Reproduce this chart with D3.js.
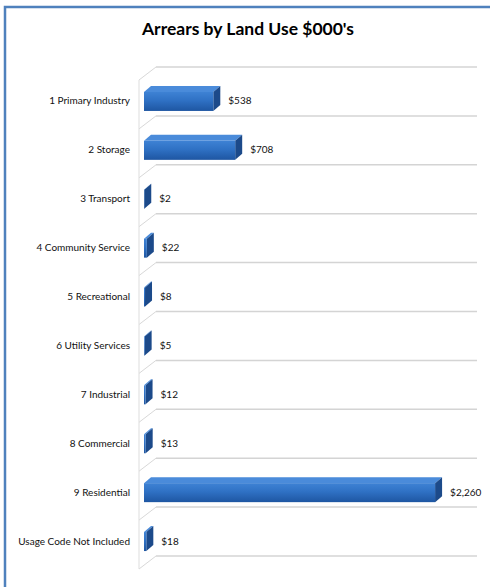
<!DOCTYPE html>
<html><head><meta charset="utf-8">
<script src="https://cdn.jsdelivr.net/npm/d3@7"></script>
<style>body{margin:0;background:#fff}svg{display:block}</style>
</head><body>
<svg id="c" width="490" height="587"></svg>
<script>
const categories = ["1 Primary Industry","2 Storage","3 Transport","4 Community Service","5 Recreational","6 Utility Services","7 Industrial","8 Commercial","9 Residential","Usage Code Not Included"];
const values = [538, 708, 2, 22, 8, 5, 12, 13, 2260, 18];
const valueLabels = ["$538","$708","$2","$22","$8","$5","$12","$13","$2,260","$18"];
const title = "Arrears by Land Use $000's";

const svg = d3.select("#c");
const font = "Lato, 'Open Sans', sans-serif";
const defs = svg.append("defs");
const gf = defs.append("linearGradient").attr("id","gf").attr("x1",0).attr("y1",0).attr("x2",0).attr("y2",1);
gf.append("stop").attr("offset","0%").attr("stop-color","#3E82D4");
gf.append("stop").attr("offset","45%").attr("stop-color","#2F71C4");
gf.append("stop").attr("offset","100%").attr("stop-color","#1E56A2");

// frame
svg.append("rect").attr("x",5).attr("y",7).attr("width",500).attr("height",600)
  .attr("fill","#fff").attr("stroke","#4F81BD").attr("stroke-width",2.5);

svg.append("text").attr("x",248).attr("y",31).attr("text-anchor","middle")
  .attr("dominant-baseline","middle").attr("font-family",font).attr("font-weight","bold")
  .attr("font-size",17.5).attr("fill","#000").text(title);

const x = d3.scaleLinear().domain([0, 2500]).range([144, 466]);
const y = d3.scaleBand().domain(categories).range([67, 556]).padding(0);
const dx = 7, dy = -6, bh = 19;
const bw = y.bandwidth();

// gridlines (back wall) and left wall
const bounds = categories.map(c => y(c)).concat([y.range()[1]]);
const wallX0 = 139, wallX1 = 156, wallDy = 13;
const g = svg.append("g");
g.selectAll("line.grid").data(bounds).join("line").attr("class","grid")
  .attr("x1",wallX1).attr("x2",477).attr("y1",d=>d).attr("y2",d=>d)
  .attr("stroke","#D4D4D4").attr("stroke-width",1.5);
g.selectAll("line.diag").data(bounds).join("line").attr("class","diag")
  .attr("x1",wallX0).attr("y1",d=>d+wallDy).attr("x2",wallX1).attr("y2",d=>d)
  .attr("stroke","#D8D8D8").attr("stroke-width",1);
g.append("line").attr("x1",wallX0).attr("x2",wallX0).attr("y1",bounds[0]+wallDy).attr("y2",bounds[bounds.length-1]+wallDy)
  .attr("stroke","#DDDDDD").attr("stroke-width",1);

// bars
const data = categories.map((c,i)=>({c, v: values[i], l: valueLabels[i]}));
const bars = svg.append("g").selectAll("g").data(data).join("g");
const fy = d => y(d.c) + bw/2 + 10 - bh/2;
bars.append("path").attr("fill","#4A8BDA").attr("d", d => {
  const x0 = x(0), x1 = x(d.v), t = fy(d);
  return `M${x0},${t}L${x0+dx},${t+dy}L${x1+dx},${t+dy}L${x1},${t}Z`;
});
bars.append("path").attr("fill","#1C4A8A").attr("d", d => {
  const x1 = x(d.v), t = fy(d);
  return `M${x1},${t}L${x1+dx},${t+dy}L${x1+dx},${t+dy+bh}L${x1},${t+bh}Z`;
});
bars.append("rect").attr("x", x(0)).attr("y", d => fy(d)).attr("width", d => x(d.v)-x(0))
  .attr("height", bh).attr("fill","url(#gf)");

// category labels
svg.append("g").selectAll("text").data(data).join("text")
  .attr("x",130).attr("y", d => y(d.c)+bw/2+10.5).attr("text-anchor","end")
  .attr("dominant-baseline","middle").attr("font-family",font).attr("font-size",10)
  .attr("fill","#111").text(d=>d.c);
// value labels
svg.append("g").selectAll("text").data(data).join("text")
  .attr("x", d => x(d.v)+dx+8).attr("y", d => y(d.c)+bw/2+10.5)
  .attr("dominant-baseline","middle").attr("font-family",font).attr("font-size",10)
  .attr("fill","#111").text(d=>d.l);
</script>
</body></html>
